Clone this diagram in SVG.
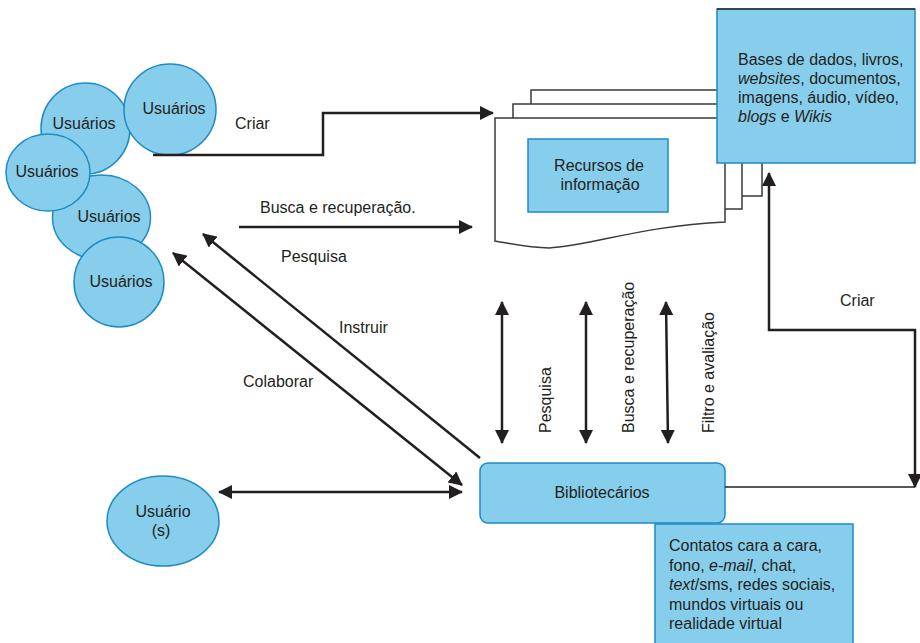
<svg xmlns="http://www.w3.org/2000/svg" width="920" height="643" viewBox="0 0 920 643">
<defs>
<marker id="ah" markerWidth="14" markerHeight="14" viewBox="0 0 14 14" refX="13" refY="7" orient="auto-start-reverse" markerUnits="userSpaceOnUse">
<path d="M0,0 L14,7 L0,14 Z" fill="#231f20"/>
</marker>
</defs>
<style>
text{font-family:"Liberation Sans",Arial,sans-serif;font-size:16px;fill:#231f20}
.c{text-anchor:middle}
.n{fill:#87ceec;stroke:#1e8bc3;stroke-width:1.5}
.pg{fill:#fff;stroke:#3a3a3a;stroke-width:1.5}
.ln{fill:none;stroke:#231f20;stroke-width:2.5}
.th{fill:none;stroke:#231f20;stroke-width:1.5}
</style>
<rect width="920" height="643" fill="#fff"/>

<g id="usuarios">
<ellipse class="n" cx="85.5" cy="128.5" rx="44.5" ry="45.5"/>
<ellipse class="n" cx="101.5" cy="217.5" rx="49" ry="42.5"/>
<ellipse class="n" cx="170" cy="109.5" rx="46" ry="45.5"/>
<ellipse class="n" cx="48" cy="172.5" rx="42" ry="38.5"/>
<ellipse class="n" cx="119" cy="282" rx="45" ry="45"/>
<text class="c" x="84" y="129">Usuários</text>
<text class="c" x="174" y="114">Usuários</text>
<text class="c" x="47" y="177">Usuários</text>
<text class="c" x="109" y="222">Usuários</text>
<text class="c" x="121" y="287">Usuários</text>
</g>

<g id="recursos">
<path class="pg" d="M531,196 V90 H762 V196 H742"/>
<path class="pg" d="M513,209 V104 H742 V209 H725"/>
<path class="pg" d="M495,241 V118 H725 V222 C640,226 590,246 549,248 C530,248 512,244 495,241 Z"/>
<rect class="n" x="528" y="139" width="140" height="73"/>
<text class="c" x="599" y="171">Recursos de</text>
<text class="c" x="600" y="190">informação</text>
</g>

<g id="bases">
<rect class="n" x="717" y="9" width="198" height="154"/>
<line x1="717" y1="9" x2="915" y2="9" stroke="#2a2a2a" stroke-width="1.5"/>
<text x="738" y="65">Bases de dados, livros,</text>
<text x="738" y="84"><tspan font-style="italic">websites</tspan>, documentos,</text>
<text x="738" y="103">imagens, áudio, vídeo,</text>
<text x="738" y="122"><tspan font-style="italic">blogs</tspan> e <tspan font-style="italic">Wikis</tspan></text>
</g>

<g id="bibliotecarios">
<rect class="n" x="480" y="463" width="245" height="60" rx="8"/>
<text class="c" x="602" y="498">Bibliotecários</text>
</g>

<g id="contatos">
<rect class="n" x="655" y="524" width="198" height="125"/>
<text x="669" y="551">Contatos cara a cara,</text>
<text x="669" y="571">fono, <tspan font-style="italic">e-mail</tspan>, chat,</text>
<text x="669" y="590"><tspan font-style="italic">text</tspan>/sms, redes sociais,</text>
<text x="669" y="610">mundos virtuais ou</text>
<text x="669" y="629">realidade virtual</text>
</g>

<g id="usuario-s">
<ellipse class="n" cx="163" cy="521" rx="56" ry="45"/>
<text class="c" x="163" y="517">Usuário</text>
<text class="c" x="161" y="536">(s)</text>
</g>

<g id="connectors">
<path class="ln" d="M153,155 H323 V113 H493" marker-end="url(#ah)"/>
<text x="235" y="129">Criar</text>
<line class="ln" x1="239" y1="227" x2="472" y2="227" marker-end="url(#ah)"/>
<text x="260" y="213">Busca e recuperação.</text>
<line class="ln" x1="480" y1="458" x2="203" y2="234" marker-end="url(#ah)"/>
<text x="281" y="262">Pesquisa</text>
<text x="339" y="333">Instruir</text>
<line class="ln" x1="173" y1="253" x2="462" y2="485" marker-start="url(#ah)" marker-end="url(#ah)"/>
<text x="243" y="387">Colaborar</text>
<line class="ln" x1="219" y1="492" x2="462" y2="492" marker-start="url(#ah)" marker-end="url(#ah)"/>
<line class="ln" x1="502" y1="302" x2="502" y2="443" marker-start="url(#ah)" marker-end="url(#ah)"/>
<line class="ln" x1="586" y1="302" x2="586" y2="443" marker-start="url(#ah)" marker-end="url(#ah)"/>
<line class="ln" x1="666" y1="302" x2="668" y2="443" marker-start="url(#ah)" marker-end="url(#ah)"/>
<text transform="translate(551,433) rotate(-90)">Pesquisa</text>
<text transform="translate(634,433) rotate(-90)">Busca e recuperação</text>
<text transform="translate(714,433) rotate(-90)">Filtro e avaliação</text>
<path class="ln" d="M915,487 V330 H769 V173" marker-start="url(#ah)" marker-end="url(#ah)"/>
<line class="th" x1="725" y1="487" x2="915" y2="487"/>
<text x="840" y="306">Criar</text>
</g>
</svg>
